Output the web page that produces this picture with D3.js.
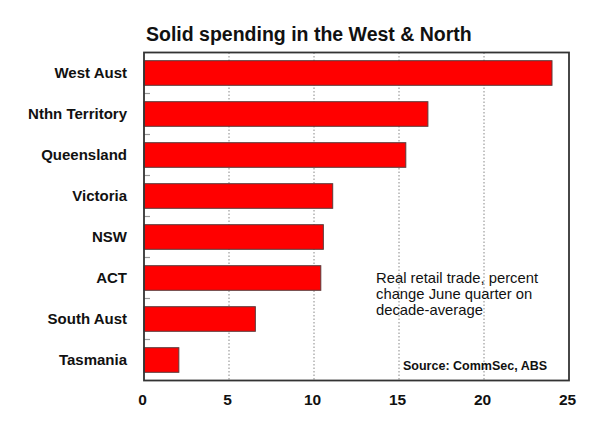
<!DOCTYPE html>
<html><head><meta charset="utf-8">
<script src="https://cdn.jsdelivr.net/npm/d3@7"></script>
<style>
html,body{margin:0;padding:0;background:#fff;}
svg{display:block;font-family:"Liberation Sans",Arial,sans-serif;}
</style></head>
<body>
<svg id="chart" width="600" height="424"></svg>
<script>
const categories = ["West Aust","Nthn Territory","Queensland","Victoria","NSW","ACT","South Aust","Tasmania"];
const values = [24.0,16.7,15.4,11.1,10.55,10.4,6.55,2.05];
const xTicks = [0,5,10,15,20,25];
const gridTicks = [5,10,15,20];
const title = "Solid spending in the West & North";
const noteLines = ["Real retail trade, percent","change June quarter on","decade-average"];
const source = "Source: CommSec, ABS";

const svg = d3.select("#chart");
const m = {left:144, right:569, top:52.5, bottom:380.5};

const x = d3.scaleLinear().domain([0,25]).range([m.left,m.right]);
const y = d3.scaleBand().domain(categories).range([m.top,m.bottom]).paddingInner(0.4).paddingOuter(0.2);

svg.append("text").attr("x",146).attr("y",41)
  .attr("font-size",19.5).attr("font-weight","bold").attr("fill","#111").text(title);

// gridlines
svg.append("g").selectAll("line").data(gridTicks).join("line")
  .attr("x1",d=>x(d)).attr("x2",d=>x(d)).attr("y1",m.top).attr("y2",m.bottom)
  .attr("stroke","#888").attr("stroke-width",1).attr("stroke-dasharray","1.5,2");

// category boundary ticks
const bounds = d3.range(1,categories.length).map(i=>m.top + i*(m.bottom-m.top)/categories.length);
svg.append("g").selectAll("line").data(bounds).join("line")
  .attr("x1",m.left).attr("x2",m.left+6).attr("y1",d=>d).attr("y2",d=>d)
  .attr("stroke","#999").attr("stroke-width",1.2);

// bars
svg.append("g").selectAll("rect").data(values).join("rect")
  .attr("x",x(0)).attr("y",(d,i)=>y(categories[i]))
  .attr("width",d=>x(d)-x(0)).attr("height",y.bandwidth())
  .attr("fill","#ff0000").attr("stroke","#5a3a3a").attr("stroke-width",1);

// frame
svg.append("rect").attr("x",m.left).attr("y",m.top).attr("width",m.right-m.left).attr("height",m.bottom-m.top)
  .attr("fill","none").attr("stroke","#333").attr("stroke-width",1.8);

// category labels
svg.append("g").selectAll("text").data(categories).join("text")
  .attr("x",127).attr("y",d=>y(d)+y.bandwidth()/2).attr("dy","0.36em")
  .attr("text-anchor","end").attr("font-size",15).attr("font-weight","bold").attr("fill","#111").text(d=>d);

// x axis labels
const xAxis = d3.axisBottom(x).tickValues(xTicks).tickSize(0).tickPadding(0);
const gx = svg.append("g").attr("transform",`translate(-2,${m.bottom})`).call(xAxis);
gx.select(".domain").remove();
gx.selectAll("text").attr("y",24.5).attr("dy",0).attr("font-size",15.5).attr("font-weight","bold")
  .attr("font-family","Liberation Sans, Arial, sans-serif").attr("fill","#111");

// note
svg.append("g").selectAll("text").data(noteLines).join("text")
  .attr("x",376).attr("y",(d,i)=>283+i*16).attr("font-size",14.8).attr("fill","#111").text(d=>d);

svg.append("text").attr("x",403).attr("y",370).attr("font-size",12.5).attr("font-weight","bold")
  .attr("fill","#111").text(source);
</script>
</body></html>
